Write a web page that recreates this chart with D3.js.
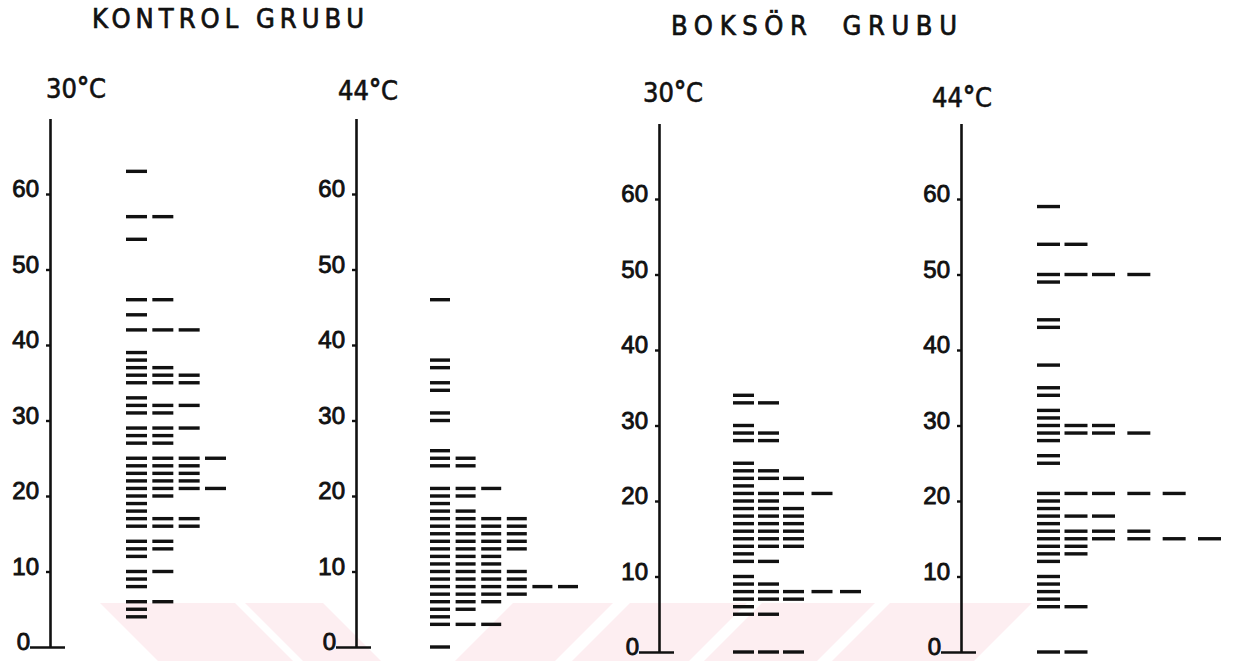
<!DOCTYPE html>
<html>
<head>
<meta charset="utf-8">
<script src="https://cdn.jsdelivr.net/npm/d3@7"></script>
<style>
  body { margin: 0; background: #fff; }
  svg { display: block; }
</style>
</head>
<body>
<div id="chart"></div>
<script>
// tick labels on every axis
const tickValues = [0, 10, 20, 30, 40, 50, 60];

// titles
const groupTitles = ["KONTROL GRUBU", "BOKSÖR  GRUBU"];
const tempLabels = ["30", "44", "30", "44"];

// each row: a value, and how many dashes (subjects) sit on it
const kontrol30Values = [63, 57, 54, 46, 44, 42, 39, 38, 37, 36, 35, 33, 32, 31, 29, 28, 27, 25, 24, 23, 22, 21, 20, 19, 18, 17, 16, 14, 13, 12, 10, 9, 8, 6, 5, 4];
const kontrol30Counts = [1, 2, 1, 2, 1, 3, 1, 1, 2, 3, 3, 1, 3, 2, 3, 2, 2, 4, 3, 3, 3, 4, 2, 1, 1, 3, 3, 2, 2, 1, 2, 1, 1, 2, 1, 1];

const kontrol44Values = [46, 38, 37, 35, 34, 31, 30, 26, 25, 24, 21, 20, 19, 18, 17, 16, 15, 14, 13, 12, 11, 10, 9, 8, 7, 6, 5, 4, 3, 0];
const kontrol44Counts = [1, 1, 1, 1, 1, 1, 1, 1, 2, 2, 3, 2, 1, 2, 4, 4, 4, 4, 4, 3, 3, 4, 4, 6, 4, 3, 2, 1, 3, 1];

const boksor30Values = [34, 33, 30, 29, 28, 25, 24, 23, 22, 21, 20, 19, 18, 17, 16, 15, 14, 13, 12, 10, 9, 8, 7, 6, 5, 0];
const boksor30Counts = [1, 2, 1, 2, 2, 1, 2, 3, 1, 4, 2, 3, 3, 3, 3, 3, 3, 1, 2, 1, 2, 5, 3, 1, 2, 3];

const boksor44Values = [59, 54, 50, 49, 44, 43, 38, 35, 34, 32, 31, 30, 29, 28, 26, 25, 21, 20, 19, 18, 17, 16, 15, 14, 13, 12, 10, 9, 8, 7, 6, 0];
const boksor44Counts = [1, 2, 4, 1, 1, 1, 1, 1, 1, 1, 1, 3, 4, 1, 1, 1, 5, 1, 1, 3, 1, 4, 6, 2, 2, 1, 1, 1, 1, 1, 2, 2];

const width = 1234;
const height = 661;
const ink = "#111";
const titleFont = "DejaVu Sans Condensed, DejaVu Sans";

// layout of the four panels
const panels = [
  { values: kontrol30Values, counts: kontrol30Counts, axisX: 50, y0: 647,
    colDomain: [0, 3], colRange: [126, 205], dashW: 21, tempX: 46, tempY: 98 },
  { values: kontrol44Values, counts: kontrol44Counts, axisX: 356, y0: 647,
    colDomain: [0, 5], colRange: [430, 558], dashW: 20, tempX: 338, tempY: 100 },
  { values: boksor30Values, counts: boksor30Counts, axisX: 659, y0: 652,
    colDomain: [0, 2, 4], colRange: [733, 783, 840], dashW: 21, tempX: 643, tempY: 102 },
  { values: boksor44Values, counts: boksor44Counts, axisX: 961, y0: 652,
    colDomain: [0, 2, 5], colRange: [1037, 1092, 1198], dashW: 23, tempX: 932, tempY: 107 },
];

const svg = d3
  .select("#chart")
  .append("svg")
  .attr("width", width)
  .attr("height", height);

svg.append("rect").attr("width", width).attr("height", height).attr("fill", "#fff");

// faint pink watermark stripes along the bottom of the scan
const wmTop = 603;
const wmShift = height - wmTop;
const wmBack = [[100, 235], [245, 323]];
const wmFwd = [[513, 613], [630, 747], [762, 875], [890, 1032]];
const wm = svg.append("g").attr("fill", "#fdeef1");
wmBack.forEach(([a, b]) => {
  wm.append("polygon").attr("points",
    `${a},${wmTop} ${b},${wmTop} ${b + wmShift},${height} ${a + wmShift},${height}`);
});
wmFwd.forEach(([a, b]) => {
  wm.append("polygon").attr("points",
    `${a},${wmTop} ${b},${wmTop} ${b - wmShift},${height} ${a - wmShift},${height}`);
});

// group titles
svg.append("text")
  .attr("x", 92).attr("y", 28)
  .attr("textLength", 272).attr("lengthAdjust", "spacing")
  .attr("font-family", titleFont)
  .attr("font-size", 27)
  .attr("fill", ink).attr("stroke", ink).attr("stroke-width", 0.7)
  .text(groupTitles[0]);

svg.append("text")
  .attr("x", 671).attr("y", 35)
  .attr("textLength", 286).attr("lengthAdjust", "spacing")
  .attr("font-family", titleFont)
  .attr("font-size", 27)
  .attr("fill", ink).attr("stroke", ink).attr("stroke-width", 0.7)
  .style("white-space", "pre")
  .text(groupTitles[1]);

panels.forEach((p, i) => {
  const y = d3.scaleLinear().domain([0, 70]).range([p.y0, p.y0 - 528.5]);
  const col = d3.scaleLinear().domain(p.colDomain).range(p.colRange);

  // temperature label
  const t = svg.append("text")
    .attr("x", p.tempX).attr("y", p.tempY)
    .attr("font-family", titleFont)
    .attr("font-size", 27)
    .attr("fill", ink).attr("stroke", ink).attr("stroke-width", 0.6);
  t.append("tspan").text(tempLabels[i]);
  t.append("tspan").attr("font-weight", "bold").attr("dy", -2).text("°");
  t.append("tspan").attr("dy", 2).text("C");

  // y axis
  const axis = d3.axisLeft(y)
    .tickValues(tickValues)
    .tickSize(4)
    .tickSizeOuter(0)
    .tickPadding(7)
    .tickFormat(d3.format("d"));

  const g = svg.append("g")
    .attr("transform", `translate(${p.axisX},0)`)
    .call(axis);

  g.select(".domain").attr("stroke", ink).attr("stroke-width", 2.6);
  g.selectAll(".tick line").attr("stroke", ink).attr("stroke-width", 2.4);
  g.selectAll(".tick text")
    .attr("font-family", "Liberation Sans, Arial, sans-serif")
    .attr("font-size", 24)
    .attr("fill", ink)
    .attr("stroke", ink).attr("stroke-width", 0.9)
    .attr("dy", "0.12em");

  // the zero tick is a short base line under the axis
  g.selectAll(".tick")
    .filter((d) => d === 0)
    .call((tk) => {
      tk.select("line").attr("x1", 15).attr("x2", -20);
      tk.select("text").attr("x", -20);
    });

  // dashes, one per subject, stacked to the right
  const dashes = [];
  p.values.forEach((v, r) => {
    for (let c = 0; c < p.counts[r]; c++) dashes.push({ value: v, col: c });
  });

  svg.append("g")
    .selectAll("line")
    .data(dashes)
    .enter()
    .append("line")
    .attr("x1", (d) => col(d.col))
    .attr("x2", (d) => col(d.col) + p.dashW)
    .attr("y1", (d) => y(d.value))
    .attr("y2", (d) => y(d.value))
    .attr("stroke", ink)
    .attr("stroke-width", 3.4);
});
</script>
</body>
</html>
